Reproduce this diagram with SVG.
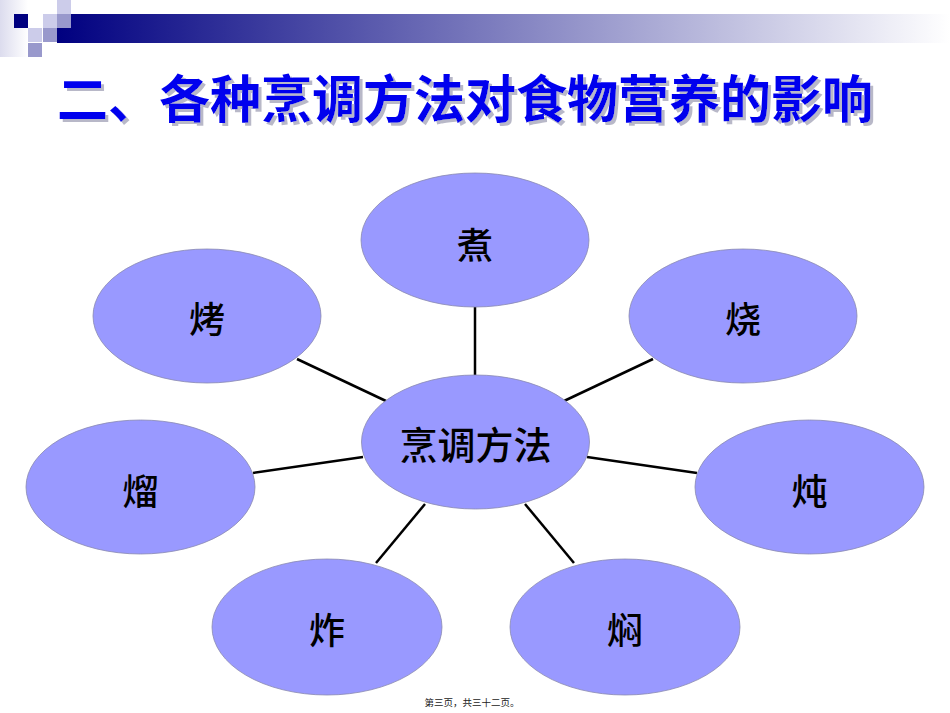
<svg xmlns="http://www.w3.org/2000/svg" width="950" height="713" viewBox="0 0 950 713">
<style>
.node ellipse{fill:#9999ff;stroke:#8a8ab0;stroke-width:0.8}
.node text{font-family:"Noto Sans CJK SC","Noto Sans CJK JP",sans-serif;font-size:36px;fill:#000;text-anchor:middle;font-weight:500}
.conn line{stroke:#000;stroke-width:2.5}
.title{font-family:"Noto Sans CJK SC",sans-serif;font-size:51px;font-weight:700}
</style>
<defs>
<linearGradient id="bar" x1="0" y1="0" x2="1" y2="0">
<stop offset="0" stop-color="#000080"/>
<stop offset="1" stop-color="#ffffff"/>
</linearGradient>
<linearGradient id="edge" x1="0" y1="0" x2="1" y2="0">
<stop offset="0" stop-color="#dcdcee"/>
<stop offset="1" stop-color="#ffffff"/>
</linearGradient>
<filter id="shadow" x="-5%" y="-20%" width="110%" height="140%">
<feOffset in="SourceAlpha" dx="3" dy="3" result="off"/>
<feFlood flood-color="#b8b8c8"/>
<feComposite in2="off" operator="in" result="sh"/>
<feMerge><feMergeNode in="sh"/><feMergeNode in="SourceGraphic"/></feMerge>
</filter>
</defs>
<rect width="950" height="713" fill="#fff"/>
<g id="decoration">
<rect x="0" y="0" width="28" height="57" fill="url(#edge)"/>
<rect x="57" y="14" width="893" height="29" fill="url(#bar)"/>
<rect x="14" y="14" width="14" height="14" fill="#000080"/>
<rect x="57" y="0" width="14" height="14" fill="#ccccea"/>
<rect x="43" y="14" width="14" height="14" fill="#ccccea"/>
<rect x="57" y="14" width="14" height="14" fill="#9999cc"/>
<rect x="28" y="28" width="14" height="14" fill="#ccccea"/>
<rect x="43" y="28" width="14" height="14" fill="#9999cc"/>
<rect x="28" y="43" width="14" height="14" fill="#9999cc"/>
</g>
<g id="title">
<text class="title" x="57" y="118" fill="#0000ee" filter="url(#shadow)">二、各种烹调方法对食物营养的影响</text>
</g>
<g id="connectors" class="conn">
<line x1="475" y1="306" x2="475" y2="377"/>
<line x1="297" y1="359" x2="386" y2="401"/>
<line x1="653" y1="359" x2="564" y2="401"/>
<line x1="253" y1="473" x2="363" y2="457"/>
<line x1="697" y1="473" x2="587" y2="457"/>
<line x1="376" y1="563" x2="425" y2="504"/>
<line x1="574" y1="563" x2="525" y2="504"/>
</g>
<g id="node-center" class="node">
<ellipse cx="475.5" cy="442" rx="114" ry="67"/>
<text x="475.5" y="459" style="font-size:38px">烹调方法</text>
</g>
<g id="node-zhu" class="node">
<ellipse cx="475" cy="240" rx="114" ry="67"/>
<text x="475" y="259">煮</text>
</g>
<g id="node-kao" class="node">
<ellipse cx="207" cy="316" rx="114" ry="67"/>
<text x="207" y="333">烤</text>
</g>
<g id="node-shao" class="node">
<ellipse cx="743" cy="316" rx="114" ry="67"/>
<text x="743" y="333">烧</text>
</g>
<g id="node-liu" class="node">
<ellipse cx="140.5" cy="487" rx="114.5" ry="67"/>
<text x="140.5" y="505">熘</text>
</g>
<g id="node-dun" class="node">
<ellipse cx="809.5" cy="487" rx="114.5" ry="67"/>
<text x="809.5" y="505">炖</text>
</g>
<g id="node-zha" class="node">
<ellipse cx="327" cy="627" rx="115" ry="68"/>
<text x="327" y="644">炸</text>
</g>
<g id="node-men" class="node">
<ellipse cx="625" cy="627" rx="115" ry="68"/>
<text x="625" y="644">焖</text>
</g>
<text x="472" y="706" font-family="Noto Sans CJK SC, sans-serif" font-size="9.5" text-anchor="middle" fill="#222">第三页，共三十二页。</text>
</svg>
